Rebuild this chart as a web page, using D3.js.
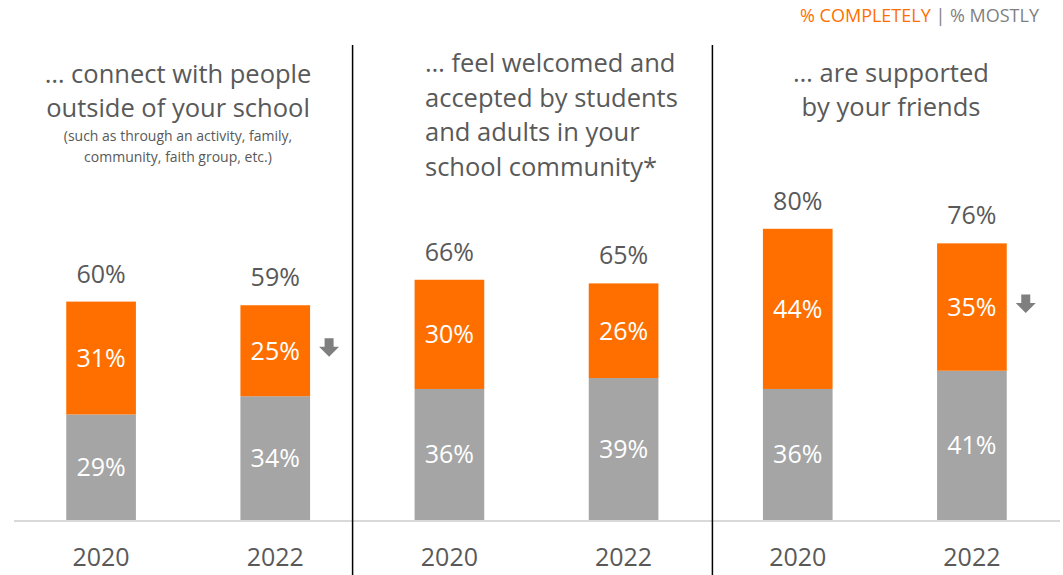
<!DOCTYPE html>
<html>
<head>
<meta charset="utf-8">
<script src="https://cdn.jsdelivr.net/npm/d3@7"></script>
<style>
  html, body { margin: 0; padding: 0; background: #fff; }
  svg { display: block; font-family: "Open Sans", Lato, sans-serif; }
</style>
</head>
<body>
<svg id="chart" width="1063" height="575"></svg>
<script>
// Survey items, one panel each
const panels = ["connect", "welcomed", "friends"];
const years = ["2020", "2022"];

// Share answering "completely" (orange) and "mostly" (gray), per panel, per year
const completely = [[31, 25], [30, 26], [44, 35]];
const mostly = [[29, 34], [36, 39], [36, 41]];
const totals = [[60, 59], [66, 65], [80, 76]];

// Panels showing a significant decline in "completely"
const declined = [[false, true], [false, false], [false, true]];

const titles = [
  ["… connect with people", "outside of your school"],
  ["… feel welcomed and", "accepted by students", "and adults in your", "school community*"],
  ["… are supported", "by your friends"]
];
const subtitles = [["(such as through an activity, family,", "community, faith group, etc.)"], [], []];

const legendItems = ["% COMPLETELY", " | ", "% MOSTLY"];

const ORANGE = "#FF6F00";
const GRAY = "#A5A5A5";
const TEXT = "#595959";

const svg = d3.select("#chart");
const W = 1063, H = 575;

// One slot per panel/year pair
const slots = [];
panels.forEach((p, i) => years.forEach((y, j) => slots.push({ p: i, y: j, key: p + "-" + y })));

const x = d3.scaleBand()
  .domain(slots.map(d => d.key))
  .range([14, 1059])
  .paddingInner(0.6)
  .paddingOuter(0.3);

const y = d3.scaleLinear().domain([0, 100]).range([520, 156]);

// Baseline
svg.append("line")
  .attr("x1", 14).attr("x2", 1060)
  .attr("y1", y(0) + 1).attr("y2", y(0) + 1)
  .attr("stroke", "#D9D9D9").attr("stroke-width", 2);

// Panel dividers
const dividerX = [x(slots[1].key) + x.bandwidth() + 42.5, x(slots[3].key) + x.bandwidth() + 54];
svg.selectAll("line.divider").data(dividerX).enter().append("line")
  .attr("class", "divider")
  .attr("x1", d => d).attr("x2", d => d)
  .attr("y1", 45).attr("y2", H)
  .attr("stroke", "#000").attr("stroke-width", 1.5);

const bars = svg.append("g");
slots.forEach(s => {
  const c = completely[s.p][s.y], m = mostly[s.p][s.y], t = totals[s.p][s.y];
  const bx = x(s.key), bw = x.bandwidth(), cx = bx + bw / 2;
  // mostly segment (bottom)
  bars.append("rect")
    .attr("x", bx).attr("width", bw)
    .attr("y", y(m)).attr("height", y(0) - y(m))
    .attr("fill", GRAY);
  // completely segment (top)
  bars.append("rect")
    .attr("x", bx).attr("width", bw)
    .attr("y", y(m + c)).attr("height", y(m) - y(m + c))
    .attr("fill", ORANGE);
  // segment labels
  bars.append("text")
    .attr("x", cx).attr("y", (y(0) + y(m)) / 2)
    .attr("dy", "0.36em").attr("text-anchor", "middle")
    .attr("fill", "#fff").attr("font-size", 25)
    .text(m + "%");
  bars.append("text")
    .attr("x", cx).attr("y", (y(m) + y(m + c)) / 2)
    .attr("dy", "0.36em").attr("text-anchor", "middle")
    .attr("fill", "#fff").attr("font-size", 25)
    .text(c + "%");
  // total above bar
  bars.append("text")
    .attr("x", cx).attr("y", y(t) - 19)
    .attr("text-anchor", "middle")
    .attr("fill", TEXT).attr("font-size", 25)
    .text(t + "%");
  // year label
  bars.append("text")
    .attr("x", cx).attr("y", 566)
    .attr("text-anchor", "middle")
    .attr("fill", TEXT).attr("font-size", 25)
    .text(years[s.y]);
  // decline marker: down arrow beside the bar
  if (declined[s.p][s.y]) {
    const ax = bx + bw + 19, ay = (y(m) + y(m + c)) / 2 - 12.5;
    bars.append("path")
      .attr("d", `M${ax - 4.5},${ay} h9 v8.5 h5.5 l-10,10 l-10,-10 h5.5 z`)
      .attr("fill", "#7F7F7F");
  }
});

// Panel titles
const titleSpec = [
  { x: 178, anchor: "middle", y0: 83, dy: 33.5 },
  { x: 425, anchor: "start", y0: 72, dy: 34.5 },
  { x: 891, anchor: "middle", y0: 82, dy: 34 }
];
titles.forEach((lines, i) => {
  const s = titleSpec[i];
  const t = svg.append("text")
    .attr("x", s.x).attr("text-anchor", s.anchor)
    .attr("fill", TEXT).attr("font-size", 25.5);
  lines.forEach((ln, k) => t.append("tspan").attr("x", s.x).attr("y", s.y0 + k * s.dy).text(ln));
});
subtitles.forEach((lines, i) => {
  const s = titleSpec[i];
  lines.forEach((ln, k) => svg.append("text")
    .attr("x", s.x).attr("y", 141 + k * 21)
    .attr("text-anchor", "middle")
    .attr("fill", TEXT).attr("font-size", 14)
    .text(ln));
});

// Legend
const legend = svg.append("text")
  .attr("x", 1039).attr("y", 22)
  .attr("text-anchor", "end")
  .attr("font-size", 18);
const legendColors = [ORANGE, "#7F7F7F", "#7F7F7F"];
legendItems.forEach((t, i) => legend.append("tspan").attr("fill", legendColors[i]).text(t));
</script>
</body>
</html>
